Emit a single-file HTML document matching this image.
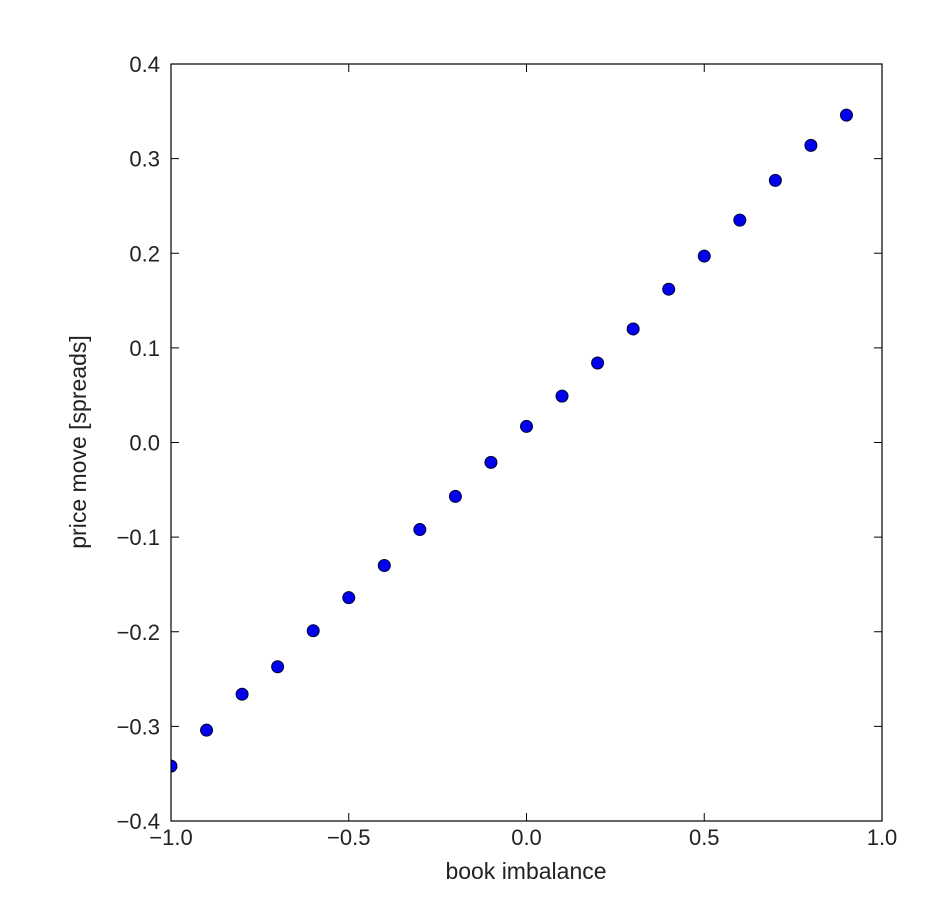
<!DOCTYPE html>
<html><head><meta charset="utf-8"><style>
html,body{margin:0;padding:0;background:#fff;}
svg{display:block;font-family:"Liberation Sans","DejaVu Sans",sans-serif;}
</style></head><body>
<svg id="chart" width="942" height="924" viewBox="0 0 942 924" xmlns="http://www.w3.org/2000/svg">
<defs><clipPath id="clip"><rect x="171" y="64" width="711" height="757"/></clipPath></defs>
<g id="ticks"></g>
<g id="points" clip-path="url(#clip)"></g>
<rect x="171" y="64" width="711" height="757" fill="none" stroke="#000" stroke-width="1.2"/>
<text x="526" y="879" font-size="23" text-anchor="middle" fill="#222">book imbalance</text>
<text transform="translate(86,442) rotate(-90)" font-size="23" text-anchor="middle" fill="#222">price move [spreads]</text>
</svg>
<script>
const xValues = [-1.0,-0.9,-0.8,-0.7,-0.6,-0.5,-0.4,-0.3,-0.2,-0.1,0.0,0.1,0.2,0.3,0.4,0.5,0.6,0.7,0.8,0.9];
const yValues = [-0.342,-0.304,-0.266,-0.237,-0.199,-0.164,-0.130,-0.092,-0.057,-0.021,0.017,0.049,0.084,0.120,0.162,0.197,0.235,0.277,0.314,0.346];
const xTicks = [-1.0,-0.5,0.0,0.5,1.0];
const xTickLabels = ["\u22121.0","\u22120.5","0.0","0.5","1.0"];
const yTicks = [-0.4,-0.3,-0.2,-0.1,0.0,0.1,0.2,0.3,0.4];
const yTickLabels = ["\u22120.4","\u22120.3","\u22120.2","\u22120.1","0.0","0.1","0.2","0.3","0.4"];

const X0=171,X1=882,Y0=821,Y1=64;
function xs(v){return X0+(v+1)/2*(X1-X0);}
function ys(v){return Y0-(v+0.4)/0.8*(Y0-Y1);}
const NS="http://www.w3.org/2000/svg";
const tg=document.getElementById('ticks');
function mk(tag,attrs,parent){const e=document.createElementNS(NS,tag);for(const k in attrs)e.setAttribute(k,attrs[k]);parent.appendChild(e);return e;}
xTicks.forEach((v,i)=>{
  const x=xs(v);
  const t1=mk('line',{x1:x,x2:x,y1:Y0,y2:Y0-8,stroke:'#000','stroke-width':1},tg);
  
  
  const t2=mk('line',{x1:x,x2:x,y1:Y1,y2:Y1+8,stroke:'#000','stroke-width':1},tg);
  
  
  const l=mk('text',{x:x,y:845,'font-size':22,'text-anchor':'middle',fill:'#222'},tg);
  l.textContent=xTickLabels[i];
  
  
});
yTicks.forEach((v,i)=>{
  const y=ys(v);
  const t1=mk('line',{x1:X0,x2:X0+8,y1:y,y2:y,stroke:'#000','stroke-width':1},tg);
  
  
  const t2=mk('line',{x1:X1,x2:X1-8,y1:y,y2:y,stroke:'#000','stroke-width':1},tg);
  
  
  const l=mk('text',{x:160,y:y+8,'font-size':22,'text-anchor':'end',fill:'#222'},tg);
  l.textContent=yTickLabels[i];
  
  
});
const pg=document.getElementById('points');
xValues.forEach((v,i)=>{
  const c=mk('circle',{cx:xs(v),cy:ys(yValues[i]),r:6,fill:'#0000ee',stroke:'#000033','stroke-width':1},pg);
  
  
});
</script>
</body></html>
